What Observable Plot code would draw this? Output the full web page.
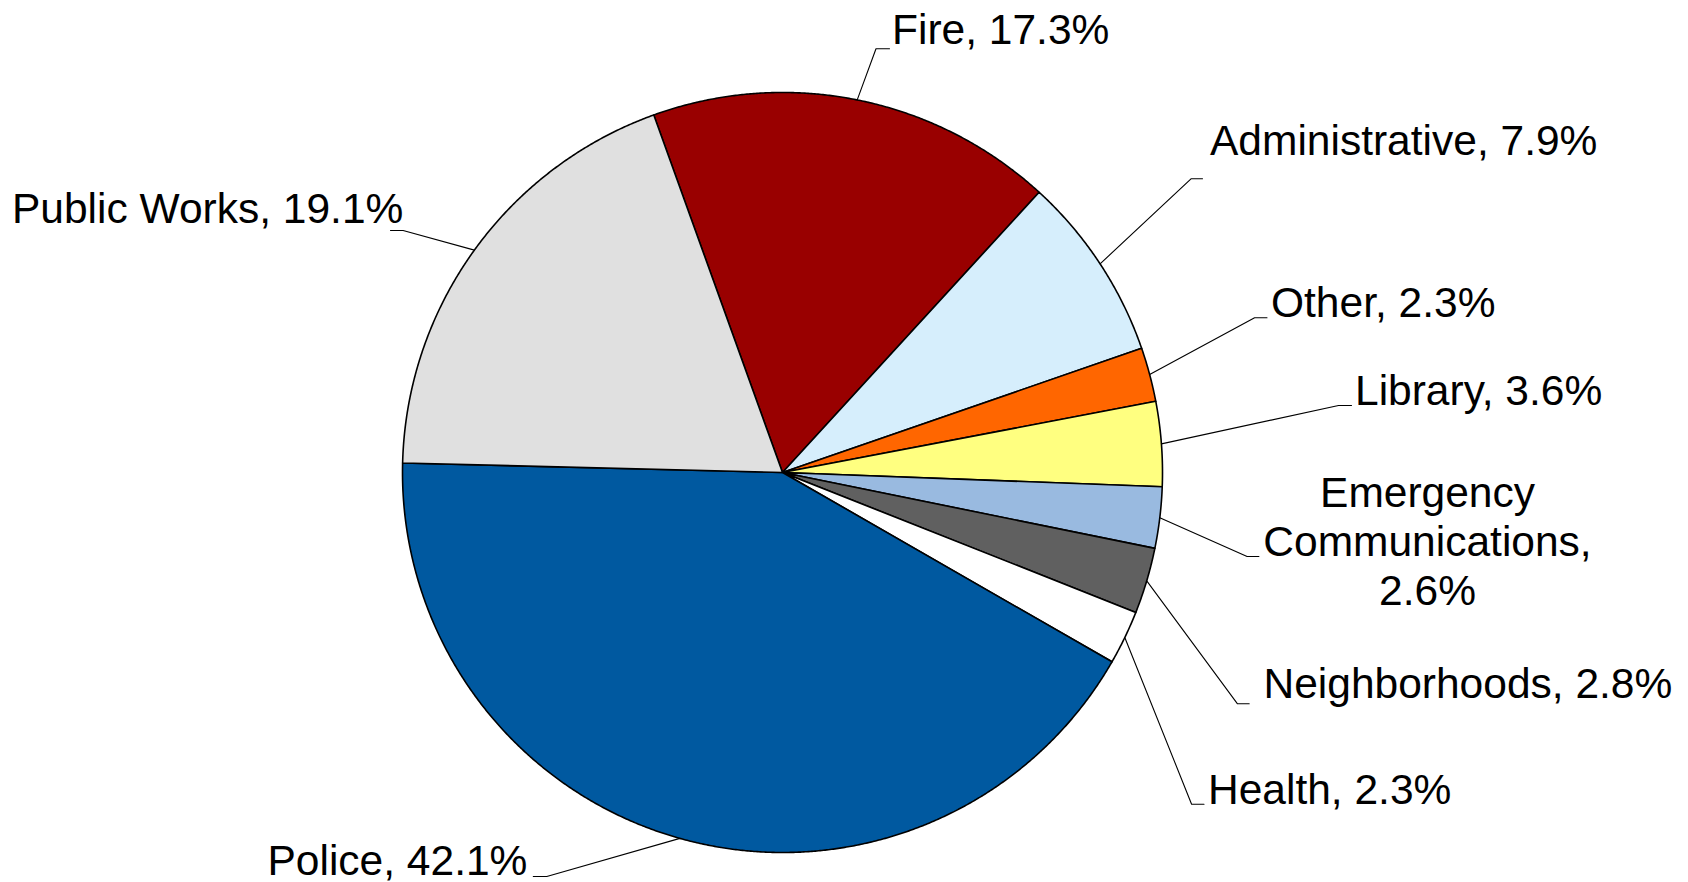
<!DOCTYPE html>
<html>
<head>
<meta charset="utf-8">
<script src="https://cdn.jsdelivr.net/npm/d3@7"></script>
<script src="https://cdn.jsdelivr.net/npm/@observablehq/plot@0.6"></script>
<style>
  html, body { margin: 0; padding: 0; background: #fff; }
  #chart svg { display: block; max-width: none; }
</style>
</head>
<body>
<div id="chart"></div>
<script>
// ---- data (clockwise from the top) ----
const categories = ["Fire", "Administrative", "Other", "Library", "Emergency Communications",
                    "Neighborhoods", "Health", "Police", "Public Works"];
const values = [17.3, 7.9, 2.3, 3.6, 2.6, 2.8, 2.3, 42.1, 19.1];
const colors = ["#990000", "#D6EEFC", "#FF6600", "#FFFF80", "#99BAE0",
                "#606060", "#FFFFFF", "#0059A0", "#E0E0E0"];
const displayNames = ["Fire", "Administrative", "Other", "Library", "Emergency\nCommunications",
                      "Neighborhoods", "Health", "Police", "Public Works"];

// ---- layout (pixels) ----
const W = 1688, H = 882, CX = 782, CY = 472, R = 380;
const START_DEG = -19.8;
const FONT = "Liberation Sans, Arial, Helvetica, sans-serif";
const FONT_SIZE = 42.5;
const labelLayout = {
  "Fire":                     {tx: 891.5, ty: 43.3, anchor: "start", tick: [[875.5, 48.3], [889, 48.3]]},
  "Administrative":           {tx: 1209.5, ty: 154, anchor: "start", tick: [[1190.5, 178.3], [1202, 178.3]]},
  "Other":                    {tx: 1270.5, ty: 316.7, anchor: "start", tick: [[1254.1, 317.3], [1266.5, 317.3]]},
  "Library":                  {tx: 1354.5, ty: 404, anchor: "start", tick: [[1338, 405], [1351, 405]]},
  "Emergency Communications": {tx: 1427, ty: 604, anchor: "middle", tick: [[1246.6, 556], [1258.4, 556]]},
  "Neighborhoods":            {tx: 1263, ty: 697.7, anchor: "start", tick: [[1237, 703.3], [1248.7, 703.3]]},
  "Health":                   {tx: 1207.5, ty: 803.7, anchor: "start", tick: [[1191.1, 803.7], [1203.5, 803.7]]},
  "Police":                   {tx: 267, ty: 874.3, anchor: "start", tick: [[546.3, 876], [532.8, 876]]},
  "Public Works":             {tx: 11.5, ty: 222.7, anchor: "start", tick: [[402.6, 230], [390, 230]]}
};
const ux = px => (px - CX) / R;
const uy = py => (CY - py) / R;

// ---- pie geometry via d3.pie ----
const rows = categories.map((name, i) => ({name, value: values[i], display: displayNames[i]}));
const a0 = START_DEG * Math.PI / 180;
const arcs = d3.pie().sort(null).value(d => d.value).startAngle(a0).endAngle(a0 + 2 * Math.PI)(rows);

const slicePts = [];
arcs.forEach(a => {
  const name = a.data.name;
  slicePts.push({name, x: 0, y: 0});
  const n = Math.max(2, Math.ceil((a.endAngle - a.startAngle) / (Math.PI / 720)));
  for (let k = 0; k <= n; k++) {
    const t = a.startAngle + (a.endAngle - a.startAngle) * k / n;
    slicePts.push({name, x: Math.sin(t), y: Math.cos(t)});
  }
  slicePts.push({name, x: 0, y: 0});
});

const leaderPts = [];
const labels = [];
arcs.forEach(a => {
  const d = a.data;
  const L = labelLayout[d.name];
  const mid = (a.startAngle + a.endAngle) / 2;
  leaderPts.push({name: d.name, x: Math.sin(mid), y: Math.cos(mid)});
  L.tick.forEach(([px, py]) => leaderPts.push({name: d.name, x: ux(px), y: uy(py)}));
  const multi = d.display.includes("\n");
  labels.push({
    name: d.name,
    x: ux(L.tx), y: uy(L.ty), anchor: L.anchor,
    text: d.display + "," + (multi ? "\n" : " ") + d.value.toFixed(1) + "%"
  });
});

const chart = Plot.plot({
  width: W, height: H, margin: 0,
  style: {background: "#fff", overflow: "visible"},
  x: {domain: [ux(0), ux(W)], axis: null},
  y: {domain: [uy(H), uy(0)], axis: null},
  color: {domain: categories, range: colors},
  marks: [
    Plot.line(slicePts, {x: "x", y: "y", z: "name", fill: "name", stroke: "black",
                         strokeWidth: 1.6, strokeLinejoin: "round", curve: "linear"}),
    Plot.line(leaderPts, {x: "x", y: "y", z: "name", stroke: "black", strokeWidth: 1.1,
                          curve: "linear"}),
    Plot.text(labels.filter(d => d.anchor === "start"), {
      x: "x", y: "y", text: "text", textAnchor: "start", lineAnchor: "bottom",
      fontSize: FONT_SIZE, fontFamily: FONT, fill: "black"
    }),
    Plot.text(labels.filter(d => d.anchor === "middle"), {
      x: "x", y: "y", text: "text", textAnchor: "middle", lineAnchor: "bottom",
      lineHeight: 1.15, fontSize: FONT_SIZE, fontFamily: FONT, fill: "black"
    })
  ]
});
document.getElementById("chart").appendChild(chart);
</script>
</body>
</html>
